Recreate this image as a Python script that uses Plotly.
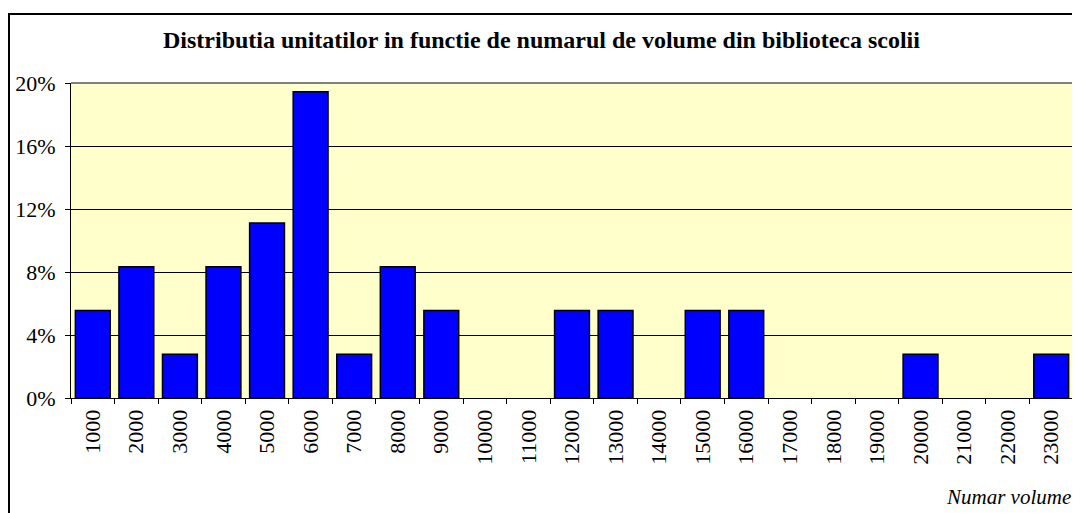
import plotly.graph_objects as go

categories = ["1000", "2000", "3000", "4000", "5000", "6000", "7000", "8000", "9000",
              "10000", "11000", "12000", "13000", "14000", "15000", "16000", "17000",
              "18000", "19000", "20000", "21000", "22000", "23000"]
# share of units (%)
values_pct = [5.56, 8.33, 2.78, 8.33, 11.11, 19.44, 2.78, 8.33, 5.56,
              0, 0, 5.56, 5.56, 0, 5.56, 5.56, 0,
              0, 0, 2.78, 0, 0, 2.78]
y_ticks = [0, 0.04, 0.08, 0.12, 0.16, 0.20]

title_text = "Distributia unitatilor in functie de numarul de volume din biblioteca scolii"
x_title = "Numar volume"

FONT = "Liberation Serif, Times New Roman, serif"

fig = go.Figure()
fig.add_trace(go.Bar(
    x=categories,
    y=[v / 100 if v > 0 else None for v in values_pct],
    marker=dict(color="#0000FF", line=dict(color="black", width=1.5)),
    hoverinfo="x+y",
))

# page has an 8px body margin: figure coords = page coords - 8
OFF = 8
W, H = 1080 - OFF, 513 - OFF
L, R, T, B = 71 - OFF, 1073 - OFF, 83 - OFF, 398 - OFF

def px(xp):
    return (xp - OFF - L) / (R - L)

def py(yp):
    return (B - (yp - OFF)) / (B - T)

fig.update_layout(
    width=W, height=H,
    margin=dict(l=L, r=W - R, t=T, b=H - B),
    paper_bgcolor="white",
    plot_bgcolor="#FFFFCC",
    bargap=0.2,
    showlegend=False,
    font=dict(family=FONT, color="black", size=20),
    xaxis=dict(
        type="category",
        tickangle=-90,
        tickson="boundaries",
        ticks="outside", ticklen=5, tickcolor="black", tickwidth=1,
        showline=True, linecolor="black", linewidth=1,
        showgrid=False,
        tickfont=dict(family=FONT, size=22),
        ticklabelstandoff=2,
        fixedrange=True,
    ),
    yaxis=dict(
        range=[0, 0.2],
        tickvals=y_ticks,
        tickformat=".0%",
        ticks="outside", ticklen=5, tickcolor="black", tickwidth=1,
        showline=True, linecolor="black", linewidth=1,
        showgrid=True, gridcolor="black", gridwidth=1,
        zeroline=False,
        tickfont=dict(family=FONT, size=22),
        ticklabelstandoff=5,
        fixedrange=True,
    ),
    annotations=[
        dict(text="<b>" + title_text + "</b>", xref="paper", yref="paper",
             x=px(541), y=py(40), xanchor="center", yanchor="middle",
             showarrow=False, font=dict(family=FONT, size=24)),
        dict(text="<i>" + x_title + "</i>", xref="paper", yref="paper",
             x=px(1073), y=py(497), xanchor="right", yanchor="middle",
             showarrow=False, font=dict(family=FONT, size=21)),
    ],
    shapes=[
        # plot-area top and right border (grey)
        dict(type="line", xref="paper", yref="paper", x0=0, x1=1, y0=1, y1=1,
             line=dict(color="#808080", width=2)),
        dict(type="line", xref="paper", yref="paper", x0=1, x1=1, y0=0, y1=1,
             line=dict(color="#808080", width=2)),
        # outer chart frame
        dict(type="rect", xref="paper", yref="paper",
             x0=px(9), x1=px(1090),
             y0=py(525), y1=py(14),
             line=dict(color="black", width=2), fillcolor="rgba(0,0,0,0)", layer="above"),
    ],
)

fig.write_html("out.html")
